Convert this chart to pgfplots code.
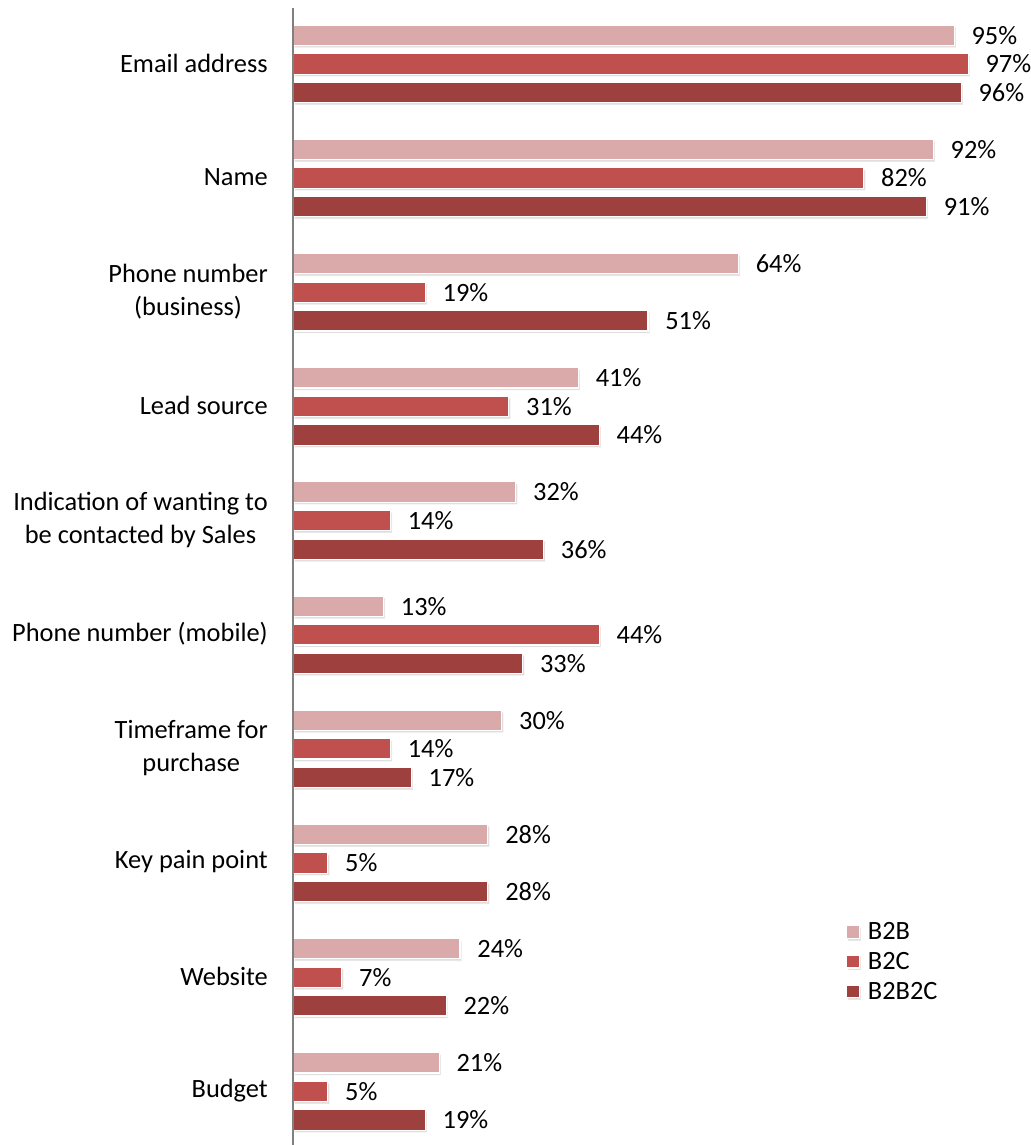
\documentclass[border=0pt]{standalone}
\usepackage{pgfplots}
\pgfplotsset{compat=1.18}
\usepackage{fontspec}
\setmainfont{Carlito}
\usetikzlibrary{shadows}
\definecolor{cB2B}{RGB}{218,169,169}
\definecolor{cB2C}{RGB}{192,80,77}
\definecolor{cB2BC}{RGB}{158,64,62}
\begin{document}
\fontsize{13.2}{15.8}\selectfont
\begin{tikzpicture}
\path[use as bounding box] (0,0) rectangle (515.5pt,572.5pt);
\begin{axis}[
  at={(146.5pt,0pt)}, anchor=south west,
  scale only axis,
  width=348pt, height=568.5pt,
  xbar, bar width=10.2pt,
  xmin=0, xmax=100,
  ymin=-0.49, ymax=9.47,
  y dir=reverse,
  axis on top,
  axis x line=none,
  axis y line=left,
  axis line style={-, draw=black!50, line width=1pt},
  ytick={0,...,9},
  yticklabels={Email address, Name, {Phone number\\(business)}, Lead source, {Indication of wanting to\\be contacted by Sales}, Phone number (mobile), {Timeframe for\\purchase}, Key pain point, Website, Budget},
  yticklabel style={align=center, font=\fontsize{13.2}{16.5}\selectfont, xshift=-8pt, yshift=0.5pt},
  major tick length=0pt,
  clip=false,
  /pgf/number format/assume math mode=true,
  nodes near coords={\pgfmathprintnumber{\pgfplotspointmeta}\%},
  point meta=x,
  every node near coord/.append style={font=\fontsize{13.2}{15.8}\selectfont, xshift=4pt},
  legend style={draw=none, at={(0.785,0.203)}, anchor=north west, font=\fontsize{13.2}{15.8}\selectfont, row sep=0.3pt, fill=none},
  legend cell align=left,
  legend image code/.code={\fill[#1, drop shadow={opacity=0}] (0pt,-2.6pt) rectangle (6.4pt,3.8pt); \path (8.5pt,0pt);},
  every axis plot/.append style={draw=white, line width=0.6pt, drop shadow={shadow xshift=0.8pt, shadow yshift=-1.1pt, opacity=0.25}},
]
\addplot[fill=cB2B, bar shift=14.3pt] coordinates {(95,0) (92,1) (64,2) (41,3) (32,4) (13,5) (30,6) (28,7) (24,8) (21,9)};
\addplot[fill=cB2C, bar shift=0pt] coordinates {(97,0) (82,1) (19,2) (31,3) (14,4) (44,5) (14,6) (5,7) (7,8) (5,9)};
\addplot[fill=cB2BC, bar shift=-14.3pt] coordinates {(96,0) (91,1) (51,2) (44,3) (36,4) (33,5) (17,6) (28,7) (22,8) (19,9)};
\legend{B2B, B2C, B2B2C}
\end{axis}
\end{tikzpicture}
\end{document}
